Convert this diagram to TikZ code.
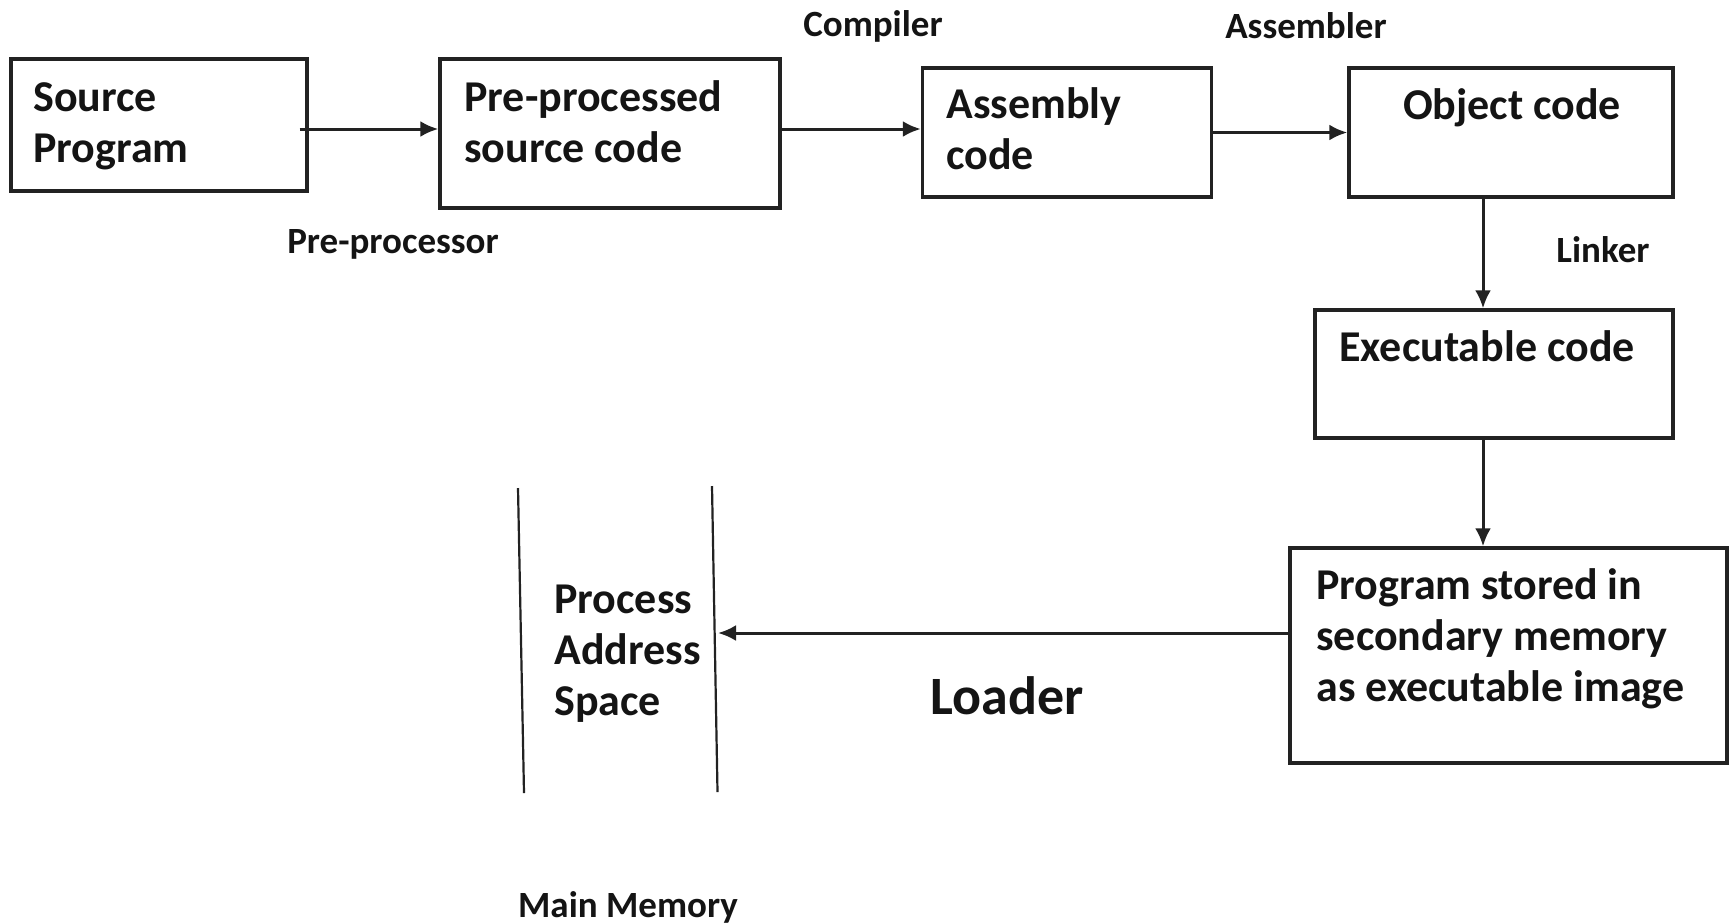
\documentclass[tikz,border=0pt]{standalone}
\usepackage{fontspec}
\setmainfont{Carlito}
\usetikzlibrary{arrows.meta}
\definecolor{linecol}{HTML}{222222}
\definecolor{txtcol}{HTML}{141414}
\begin{document}
\begin{tikzpicture}[x=0.5pt,y=-0.5pt,
  box/.style={draw=linecol, line width=1.7pt, rectangle, inner sep=0pt},
  btxt/.style={font=\bfseries\fontsize{22}{25.5}\selectfont, align=left, inner sep=0pt, anchor=base west, text=txtcol},
  lbl/.style={font=\bfseries\fontsize{18.5}{22}\selectfont, inner sep=0pt, anchor=base, text=txtcol},
  arr/.style={draw=linecol, line width=1.5pt, -{Latex[length=9pt,width=8pt]}},
  wall/.style={draw=linecol, line width=1.1pt}]
\useasboundingbox (0,0) rectangle (1734,923);

% boxes
\node[box, minimum width=148pt, minimum height=66pt] (src) at (159,125) {};
\node[box, minimum width=170pt, minimum height=74.5pt] (pre) at (610,133.5) {};
\node[box, minimum width=144.5pt, minimum height=64.5pt] (asm) at (1067,132.5) {};
\node[box, minimum width=162pt, minimum height=64.5pt] (obj) at (1511,132.5) {};
\node[box, minimum width=179pt, minimum height=64pt] (exe) at (1494,374) {};
\node[box, minimum width=218.5pt, minimum height=107.5pt] (prog) at (1508.5,655.5) {};

% box texts (base = baseline of last line)
\node[btxt] (tsrc) at (33,162) {Source\\Program};
\node[btxt] (tpre) at (464,162) {Pre-processed\\source code};
\node[btxt] (tasm) at (946,169) {Assembly\\code};
\node[btxt, anchor=base] (tobj) at (1512,119) {Object code};
\node[btxt, anchor=base] (texe) at (1487,361) {Executable code};
\node[btxt] (tprog) at (1316,701) {Program stored in\\secondary memory\\as executable image};
\node[btxt] (tpas) at (554,715) {Process\\Address\\Space};

% main memory walls
\coordinate (ltop) at (518,488);
\coordinate (lbot) at (524,793);
\coordinate (rtop) at (712,486);
\coordinate (rbot) at (717.5,792);
\draw[wall] (ltop) -- (lbot);
\draw[wall] (rtop) -- (rbot);
\coordinate (pas) at (718,633);

% labels
\node[lbl] (lcomp) at (873,36) {Compiler};
\node[lbl] (lasm) at (1306,38) {Assembler};
\node[lbl] (lpre) at (393,253) {Pre-processor};
\node[lbl] (llink) at (1603,262) {Linker};
\node[lbl] (lmm) at (628,917) {Main Memory};
\node[lbl, font=\bfseries\fontsize{27}{30}\selectfont] (lload) at (1007,714) {Loader};

% connectors
\coordinate (r1) at (0,129);
\coordinate (c1) at (1483,0);
\draw[arr] ([shift={(-9,4)}]src.east) -- (pre.west |- r1);
\draw[arr] (pre.east |- r1) -- (asm.west |- r1);
\draw[arr] (asm.east) -- (obj.west |- asm.east);
\draw[arr] (obj.south -| c1) -- (exe.north -| c1);
\draw[arr] (exe.south -| c1) -- (prog.north -| c1);
\draw[arr] (prog.west |- pas) -- (pas);
\end{tikzpicture}
\end{document}
